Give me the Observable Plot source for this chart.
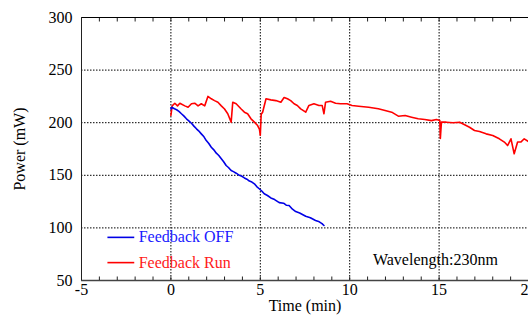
<!DOCTYPE html>
<html><head><meta charset="utf-8">
<script src="https://cdn.jsdelivr.net/npm/d3@7"></script>
<script src="https://cdn.jsdelivr.net/npm/@observablehq/plot@0.6"></script>
<style>html,body{margin:0;padding:0;background:#fff;overflow:hidden}</style>
</head><body><div id="chart"></div>
<script>
// Feedback OFF (blue)
const offTime  = [0, 0.04, 0.2, 0.32, 0.45, 0.59, 0.72, 0.87, 1.0, 1.15, 1.3, 1.43, 1.55, 1.7, 1.85, 1.98, 2.12, 2.26, 2.4, 2.54, 2.68, 2.82, 2.95, 3.09, 3.22, 3.37, 3.5, 3.65, 3.83, 3.97, 4.11, 4.25, 4.39, 4.53, 4.67, 4.8, 4.94, 5.08, 5.22, 5.4, 5.59, 5.8, 6.06, 6.3, 6.45, 6.61, 6.8, 6.98, 7.2, 7.54, 7.8, 8.09, 8.3, 8.45, 8.56];
const offPower = [213, 214.7, 213.2, 212.3, 210.8, 208.5, 206.5, 203.7, 201.8, 199.5, 196.5, 194.2, 192.3, 189.4, 186.6, 183, 180.2, 176.7, 174.2, 171, 168.8, 165.7, 162.9, 159.3, 157.4, 154.6, 153.5, 152, 150, 149.1, 147.5, 146.3, 144.5, 143.6, 141.9, 139.3, 137.2, 135.1, 132.4, 130.8, 128.5, 126.9, 124, 123.5, 121.6, 121.3, 117.8, 115.5, 114.1, 111, 109.6, 107, 105.8, 104.1, 102.3];
// Feedback Run (red)
const runTime  = [0, 0.07, 0.22, 0.37, 0.5, 0.78, 0.96, 1.15, 1.33, 1.52, 1.7, 1.89, 2.07, 2.26, 2.44, 2.63, 2.82, 3.0, 3.18, 3.37, 3.46, 3.65, 3.93, 4.11, 4.29, 4.48, 4.67, 4.85, 4.95, 5.0, 5.05, 5.13, 5.32, 5.59, 5.87, 6.15, 6.33, 6.52, 6.7, 6.89, 7.07, 7.26, 7.54, 7.72, 8.0, 8.28, 8.46, 8.56, 8.65, 8.93, 9.21, 9.48, 9.85, 10.13, 10.5, 11.06, 11.6, 11.98, 12.35, 12.72, 13.1, 13.46, 13.83, 14.2, 14.57, 14.85, 15.04, 15.07, 15.13, 15.4, 15.78, 16.15, 16.43, 16.7, 16.98, 17.26, 17.63, 18.0, 18.37, 18.65, 18.83, 19.02, 19.2, 19.39, 19.57, 19.76, 20.0];
const runPower = [207, 216, 218.5, 216, 218.5, 216, 214.7, 218, 218.5, 216, 218, 216, 225, 222.7, 221, 219.5, 216, 213, 208.5, 200.5, 219.5, 218, 213, 210, 208.5, 203.7, 200.5, 197.3, 194, 188, 208, 210, 222.7, 221.7, 221, 219.5, 224, 222.7, 221, 218, 216.4, 213.2, 210, 216.4, 218, 216.4, 216.4, 208.5, 219.5, 220.4, 218.5, 218, 218, 216.4, 215.7, 214.7, 213.2, 211.6, 210, 206.2, 206.8, 205.2, 203.7, 203, 202, 203, 202, 185, 200.5, 200.5, 200, 200.5, 198, 195.7, 192.6, 191.6, 189.4, 187.8, 184.7, 181.6, 178.3, 184.7, 170.4, 181.6, 181.6, 184.7, 182];

const xTicks = [-5, 0, 5, 10, 15, 20];
const yTicks = [50, 100, 150, 200, 250, 300];
const xMinorTicks = d3.range(-5, 21, 1);
const seriesNames = ["Feedback OFF", "Feedback Run"];
const seriesColors = ["#0000e6", "#ff0000"];
const annotation = "Wavelength:230nm";
const xLabel = "Time (min)";
const yLabel = "Power (mW)";

const offData = offTime.map((t, i) => ({t, p: offPower[i]}));
const runData = runTime.map((t, i) => ({t, p: runPower[i]}));

// legend placement (in data units)
const legendLineX = [-3.55, -2.05];
const legendTextX = -1.8;
const legendY = [91, 67];
const annotationPos = {x: 11.3, y: 70};

const dotted = {stroke: "#000", strokeOpacity: 1, strokeDasharray: "1.5,1.5", strokeWidth: 1};

const chart = Plot.plot({
  width: 528, height: 326,
  marginLeft: 81, marginRight: 0, marginTop: 17, marginBottom: 46,
  style: {fontFamily: "'Liberation Serif','Times New Roman',serif", fontSize: "16px", background: "#fff", color: "#000", overflow: "hidden"},
  x: {domain: [-5, 20]},
  y: {domain: [50, 300]},
  marks: [
    Plot.gridX(xTicks.slice(1, -1), dotted),
    Plot.gridY(yTicks.slice(1, -1), dotted),
    Plot.ruleY([50], {stroke: "#444", strokeWidth: 1.5}),
    Plot.ruleY([300], {stroke: "#000", strokeWidth: 1}),
    Plot.ruleX([-5], {stroke: "#222", strokeWidth: 1}),
    Plot.axisX(xMinorTicks, {anchor: "bottom", tickSize: -3.5, text: null, label: null, stroke: "#222"}),
    Plot.axisX(xMinorTicks, {anchor: "top", tickSize: -3.5, text: null, label: null, stroke: "#222"}),
    Plot.axisX(xTicks, {anchor: "bottom", tickSize: 0, tickPadding: 3.5, label: null, fontSize: 16, tickFormat: d => String(d)}),
    Plot.axisY(yTicks, {anchor: "left", tickSize: 0, tickPadding: 9, label: null, fontSize: 16, tickFormat: d => String(d)}),
    Plot.line(runData, {x: "t", y: "p", stroke: seriesColors[1], strokeWidth: 1.6}),
    Plot.line(offData, {x: "t", y: "p", stroke: seriesColors[0], strokeWidth: 1.6}),
    Plot.link(seriesNames, {x1: () => legendLineX[0], x2: () => legendLineX[1], y1: (d, i) => legendY[i], y2: (d, i) => legendY[i], stroke: (d, i) => seriesColors[i], strokeWidth: 1.6}),
    Plot.text(seriesNames, {x: () => legendTextX, y: (d, i) => legendY[i], text: d => d, fill: (d, i) => i === 0 ? "#1a1aff" : "#ff1a1a", textAnchor: "start", fontSize: 16}),
    Plot.text([annotation], {x: () => annotationPos.x, y: () => annotationPos.y, text: d => d, textAnchor: "start", fontSize: 16, fill: "#000"}),
    Plot.text([yLabel], {frameAnchor: "left", rotate: -90, dx: -62, textAnchor: "middle", lineAnchor: "middle", text: d => d, fontSize: 16, fill: "#000"}),
    Plot.text([xLabel], {frameAnchor: "bottom", dy: 25, textAnchor: "middle", lineAnchor: "middle", text: d => d, fontSize: 16, fill: "#000"})
  ]
});
document.getElementById("chart").appendChild(chart);
</script>
</body></html>
